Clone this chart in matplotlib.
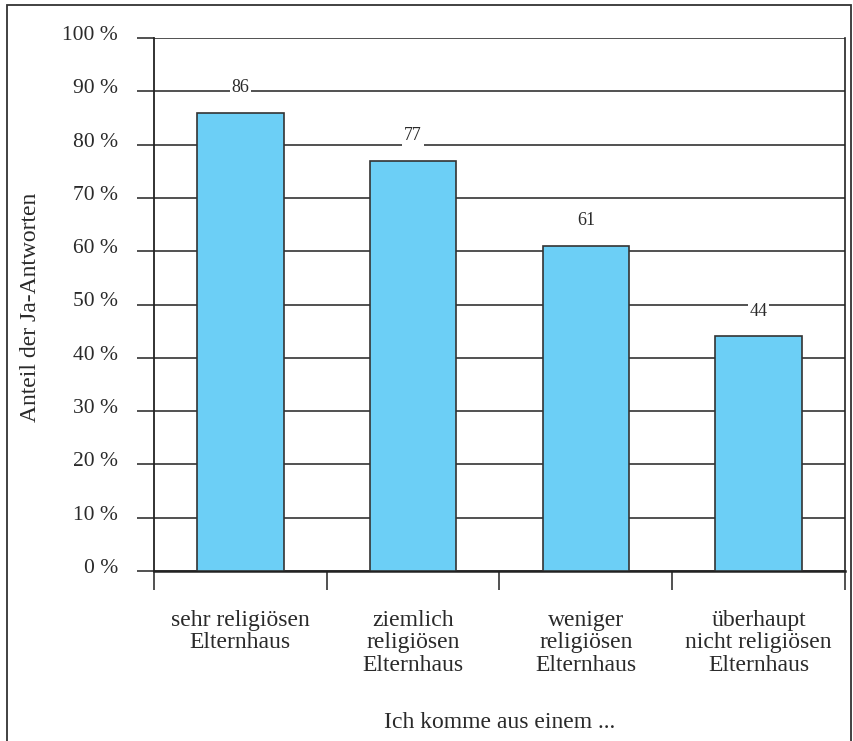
import matplotlib
matplotlib.use("Agg")
import matplotlib.pyplot as plt
import matplotlib.transforms as mtransforms
from matplotlib.patches import Rectangle
from matplotlib.ticker import FixedLocator

plt.rcParams["font.family"] = ["Liberation Serif", "DejaVu Serif"]

# -----------------------------------------------------------------------------
# Data
# -----------------------------------------------------------------------------
categories = [
    "sehr religiösen\nElternhaus",
    "ziemlich\nreligiösen\nElternhaus",
    "weniger\nreligiösen\nElternhaus",
    "überhaupt\nnicht religiösen\nElternhaus",
]
values = [86, 77, 61, 44]
y_ticks = [0, 10, 20, 30, 40, 50, 60, 70, 80, 90, 100]
y_label = "Anteil der Ja-Antworten"
x_label = "Ich komme aus einem ..."

BAR_COLOR = "#6ccff6"
LINE_COLOR = "#333333"
TEXT_COLOR = "#2a2a2a"

fig = plt.figure(figsize=(8.54, 7.41), dpi=100)
ax = fig.add_axes([154 / 854, 1 - 571 / 741, (845 - 154) / 854, (571 - 38) / 741])

x = list(range(len(categories)))
ax.bar(x, values, width=0.5, color=BAR_COLOR, edgecolor=LINE_COLOR,
       linewidth=1.2, zorder=3)

for xi, v in zip(x, values):
    ax.annotate(str(v), (xi, v), xytext=(0, 18), textcoords="offset points",
                ha="center", va="center", fontsize=13, color=TEXT_COLOR,
                bbox=dict(boxstyle="square,pad=0.1", fc="white", ec="none"),
                zorder=4)

ax.set_xlim(-0.5, len(categories) - 0.5)
ax.set_ylim(0, 100)

ax.set_yticks(y_ticks)
ax.set_yticklabels([f"{t} %" for t in y_ticks], fontsize=15.5, color=TEXT_COLOR)
ax.yaxis.grid(True, color=LINE_COLOR, linewidth=1.2, zorder=0)
ax.tick_params(axis="y", direction="out", length=12, width=1.2,
               color=LINE_COLOR, pad=14)
# tick labels sit slightly above their lines
shift = mtransforms.ScaledTranslation(0, 5 / 100, fig.dpi_scale_trans)
for lbl in ax.get_yticklabels():
    lbl.set_transform(lbl.get_transform() + shift)

# category labels on major ticks (hidden), boundaries on minor ticks
ax.set_xticks(x)
ax.set_xticklabels(categories, fontsize=17, color=TEXT_COLOR, linespacing=1.1)
ax.tick_params(axis="x", which="major", length=0, pad=28)
ax.xaxis.set_minor_locator(FixedLocator([i - 0.5 for i in range(len(categories) + 1)]))
ax.tick_params(axis="x", which="minor", direction="out", length=14, width=1.2,
               color=LINE_COLOR)

ax.set_axisbelow(True)
for side in ["left", "bottom", "right"]:
    ax.spines[side].set_color("#222222")
ax.spines["left"].set_linewidth(1.3)
ax.spines["bottom"].set_linewidth(1.8)
ax.spines["right"].set_linewidth(1.2)
ax.spines["top"].set_visible(False)

fig.text(31 / 854, 1 - 307 / 741, y_label, rotation=90, ha="center",
         va="center", fontsize=17, color=TEXT_COLOR)
fig.text(500 / 854, 1 - 722 / 741, x_label, ha="center", va="center",
         fontsize=17, color=TEXT_COLOR)

# outer frame
fig.patches.append(Rectangle((7 / 854, -0.05), (851 - 7) / 854, 1.05 - 5 / 741,
                             transform=fig.transFigure, fill=False,
                             edgecolor="#333333", linewidth=1.3))

fig.savefig("out.png", dpi=100)
